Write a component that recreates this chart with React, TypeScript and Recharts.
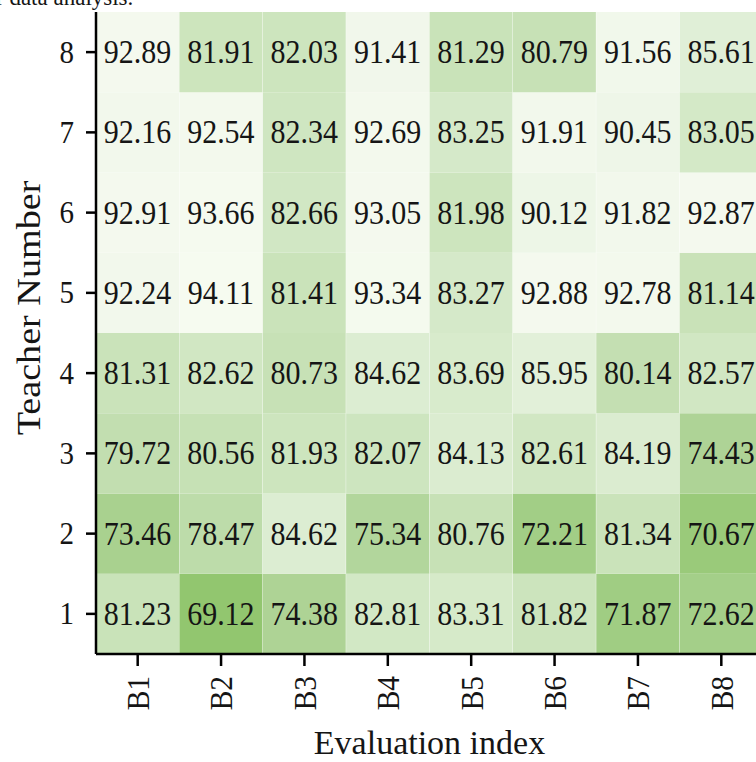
import React from "react";
import { BarChart, Bar, XAxis, YAxis, Cell, LabelList } from "recharts";

const indices = ["B1", "B2", "B3", "B4", "B5", "B6", "B7", "B8"];
const teachers = [1, 2, 3, 4, 5, 6, 7, 8];

const teacher1 = [81.23, 69.12, 74.38, 82.81, 83.31, 81.82, 71.87, 72.62];
const teacher2 = [73.46, 78.47, 84.62, 75.34, 80.76, 72.21, 81.34, 70.67];
const teacher3 = [79.72, 80.56, 81.93, 82.07, 84.13, 82.61, 84.19, 74.43];
const teacher4 = [81.31, 82.62, 80.73, 84.62, 83.69, 85.95, 80.14, 82.57];
const teacher5 = [92.24, 94.11, 81.41, 93.34, 83.27, 92.88, 92.78, 81.14];
const teacher6 = [92.91, 93.66, 82.66, 93.05, 81.98, 90.12, 91.82, 92.87];
const teacher7 = [92.16, 92.54, 82.34, 92.69, 83.25, 91.91, 90.45, 83.05];
const teacher8 = [92.89, 81.91, 82.03, 91.41, 81.29, 80.79, 91.56, 85.61];

const teacherScores = [teacher1, teacher2, teacher3, teacher4, teacher5, teacher6, teacher7, teacher8];

const yTicks = [0.5, 1.5, 2.5, 3.5, 4.5, 5.5, 6.5, 7.5];

const colorStops: [number, number[]][] = [
  [69, [145, 198, 110]],
  [72, [161, 205, 132]],
  [75, [177, 213, 154]],
  [80, [195, 223, 177]],
  [82, [205, 229, 190]],
  [84, [218, 236, 207]],
  [86, [226, 240, 217]],
  [90, [237, 246, 231]],
  [92, [242, 248, 236]],
  [94.2, [246, 251, 240]],
];

function colorFor(v: number): string {
  if (v <= colorStops[0][0]) return `rgb(${colorStops[0][1].join(",")})`;
  for (let i = 1; i < colorStops.length; i++) {
    const [v1, c1] = colorStops[i];
    const [v0, c0] = colorStops[i - 1];
    if (v <= v1) {
      const t = (v - v0) / (v1 - v0);
      const c = c0.map((a, k) => Math.round(a + (c1[k] - a) * t));
      return `rgb(${c.join(",")})`;
    }
  }
  return `rgb(${colorStops[colorStops.length - 1][1].join(",")})`;
}

const chartData = indices.map((name, j) => {
  const row: Record<string, number | string> = { name };
  teachers.forEach((t, i) => {
    row[`t${t}`] = 1;
    row[`s${t}`] = teacherScores[i][j];
  });
  return row;
});

const FONT = "'Liberation Serif', 'Times New Roman', serif";
const STRETCH = 1.09;
const INK = "#151515";

const XTick = (props: any) => {
  const { x, y, payload } = props;
  return (
    <text
      transform={`translate(${x + 1},${y}) rotate(-90) scale(0.92,1)`}
      textAnchor="end"
      dominantBaseline="central"
      fontSize={32}
      fontFamily={FONT}
      fill={INK}
    >
      {payload.value}
    </text>
  );
};

const YTick = (props: any) => {
  const { x, y, payload } = props;
  return (
    <text
      transform={`translate(${x},${y}) scale(1,${STRETCH})`}
      textAnchor="end"
      dominantBaseline="central"
      fontSize={29}
      fontFamily={FONT}
      fill={INK}
    >
      {String(payload.value + 0.5)}
    </text>
  );
};

const CellLabel = (props: any) => {
  const { x, y, width, height, value } = props;
  return (
    <text
      transform={`translate(${x + width / 2},${y + height / 2}) scale(1,${STRETCH})`}
      textAnchor="middle"
      dominantBaseline="central"
      fontSize={30}
      fontFamily={FONT}
      fill={INK}
    >
      {Number(value).toFixed(2)}
    </text>
  );
};

const XTitle = (props: any) => {
  const { viewBox } = props;
  const cx = viewBox.x + viewBox.width / 2;
  return (
    <text
      x={cx}
      y={754}
      textAnchor="middle"
      fontSize={34}
      fontFamily={FONT}
      fill={INK}
    >
      Evaluation index
    </text>
  );
};

const YTitle = () => {
  return (
    <text
      transform={`translate(${40},${308}) rotate(-90) scale(${STRETCH * 1.03},1)`}
      textAnchor="middle"
      fontSize={34}
      fontFamily={FONT}
      fill={INK}
    >
      Teacher Number
    </text>
  );
};

export default function App() {
  return (
    <div
      style={{
        position: "absolute",
        left: 0,
        top: 0,
        width: 756,
        height: 762,
        overflow: "hidden",
        background: "#fff",
      }}
    >
      <BarChart
        width={772}
        height={762}
        data={chartData}
        margin={{ top: 12, right: 9, bottom: 0, left: 0 }}
        barCategoryGap={0}
        barGap={0}
      >
        <XAxis
          dataKey="name"
          xAxisId="top"
          orientation="top"
          height={0}
          tick={false}
          tickLine={false}
          axisLine={{ stroke: "#000", strokeWidth: 2.5 }}
        />
        <XAxis
          dataKey="name"
          height={108}
          tickSize={12}
          tickMargin={10}
          tickLine={{ stroke: "#000", strokeWidth: 2.5 }}
          axisLine={{ stroke: "#000", strokeWidth: 2.5 }}
          tick={<XTick />}
          interval={0}
          label={<XTitle />}
        />
        <YAxis
          type="number"
          domain={[0, 8]}
          ticks={yTicks}
          interval={0}
          width={96}
          tickSize={10}
          tickMargin={12}
          tickLine={{ stroke: "#000", strokeWidth: 2.5 }}
          axisLine={{ stroke: "#000", strokeWidth: 2.5 }}
          tick={<YTick />}
          label={<YTitle />}
        />
        {teachers.map((t, i) => (
          <Bar key={t} dataKey={`t${t}`} stackId="heat" isAnimationActive={false}>
            {indices.map((name, j) => (
              <Cell key={name} fill={colorFor(teacherScores[i][j])} />
            ))}
            <LabelList dataKey={`s${t}`} content={<CellLabel />} />
          </Bar>
        ))}
      </BarChart>
      <svg
        width={756}
        height={20}
        style={{ position: "absolute", left: 0, top: 0, pointerEvents: "none" }}
      >
        <text x={-4} y={5} fontSize={23} fontFamily={FONT} fill={INK}>
          r data analysis.
        </text>
      </svg>
    </div>
  );
}
